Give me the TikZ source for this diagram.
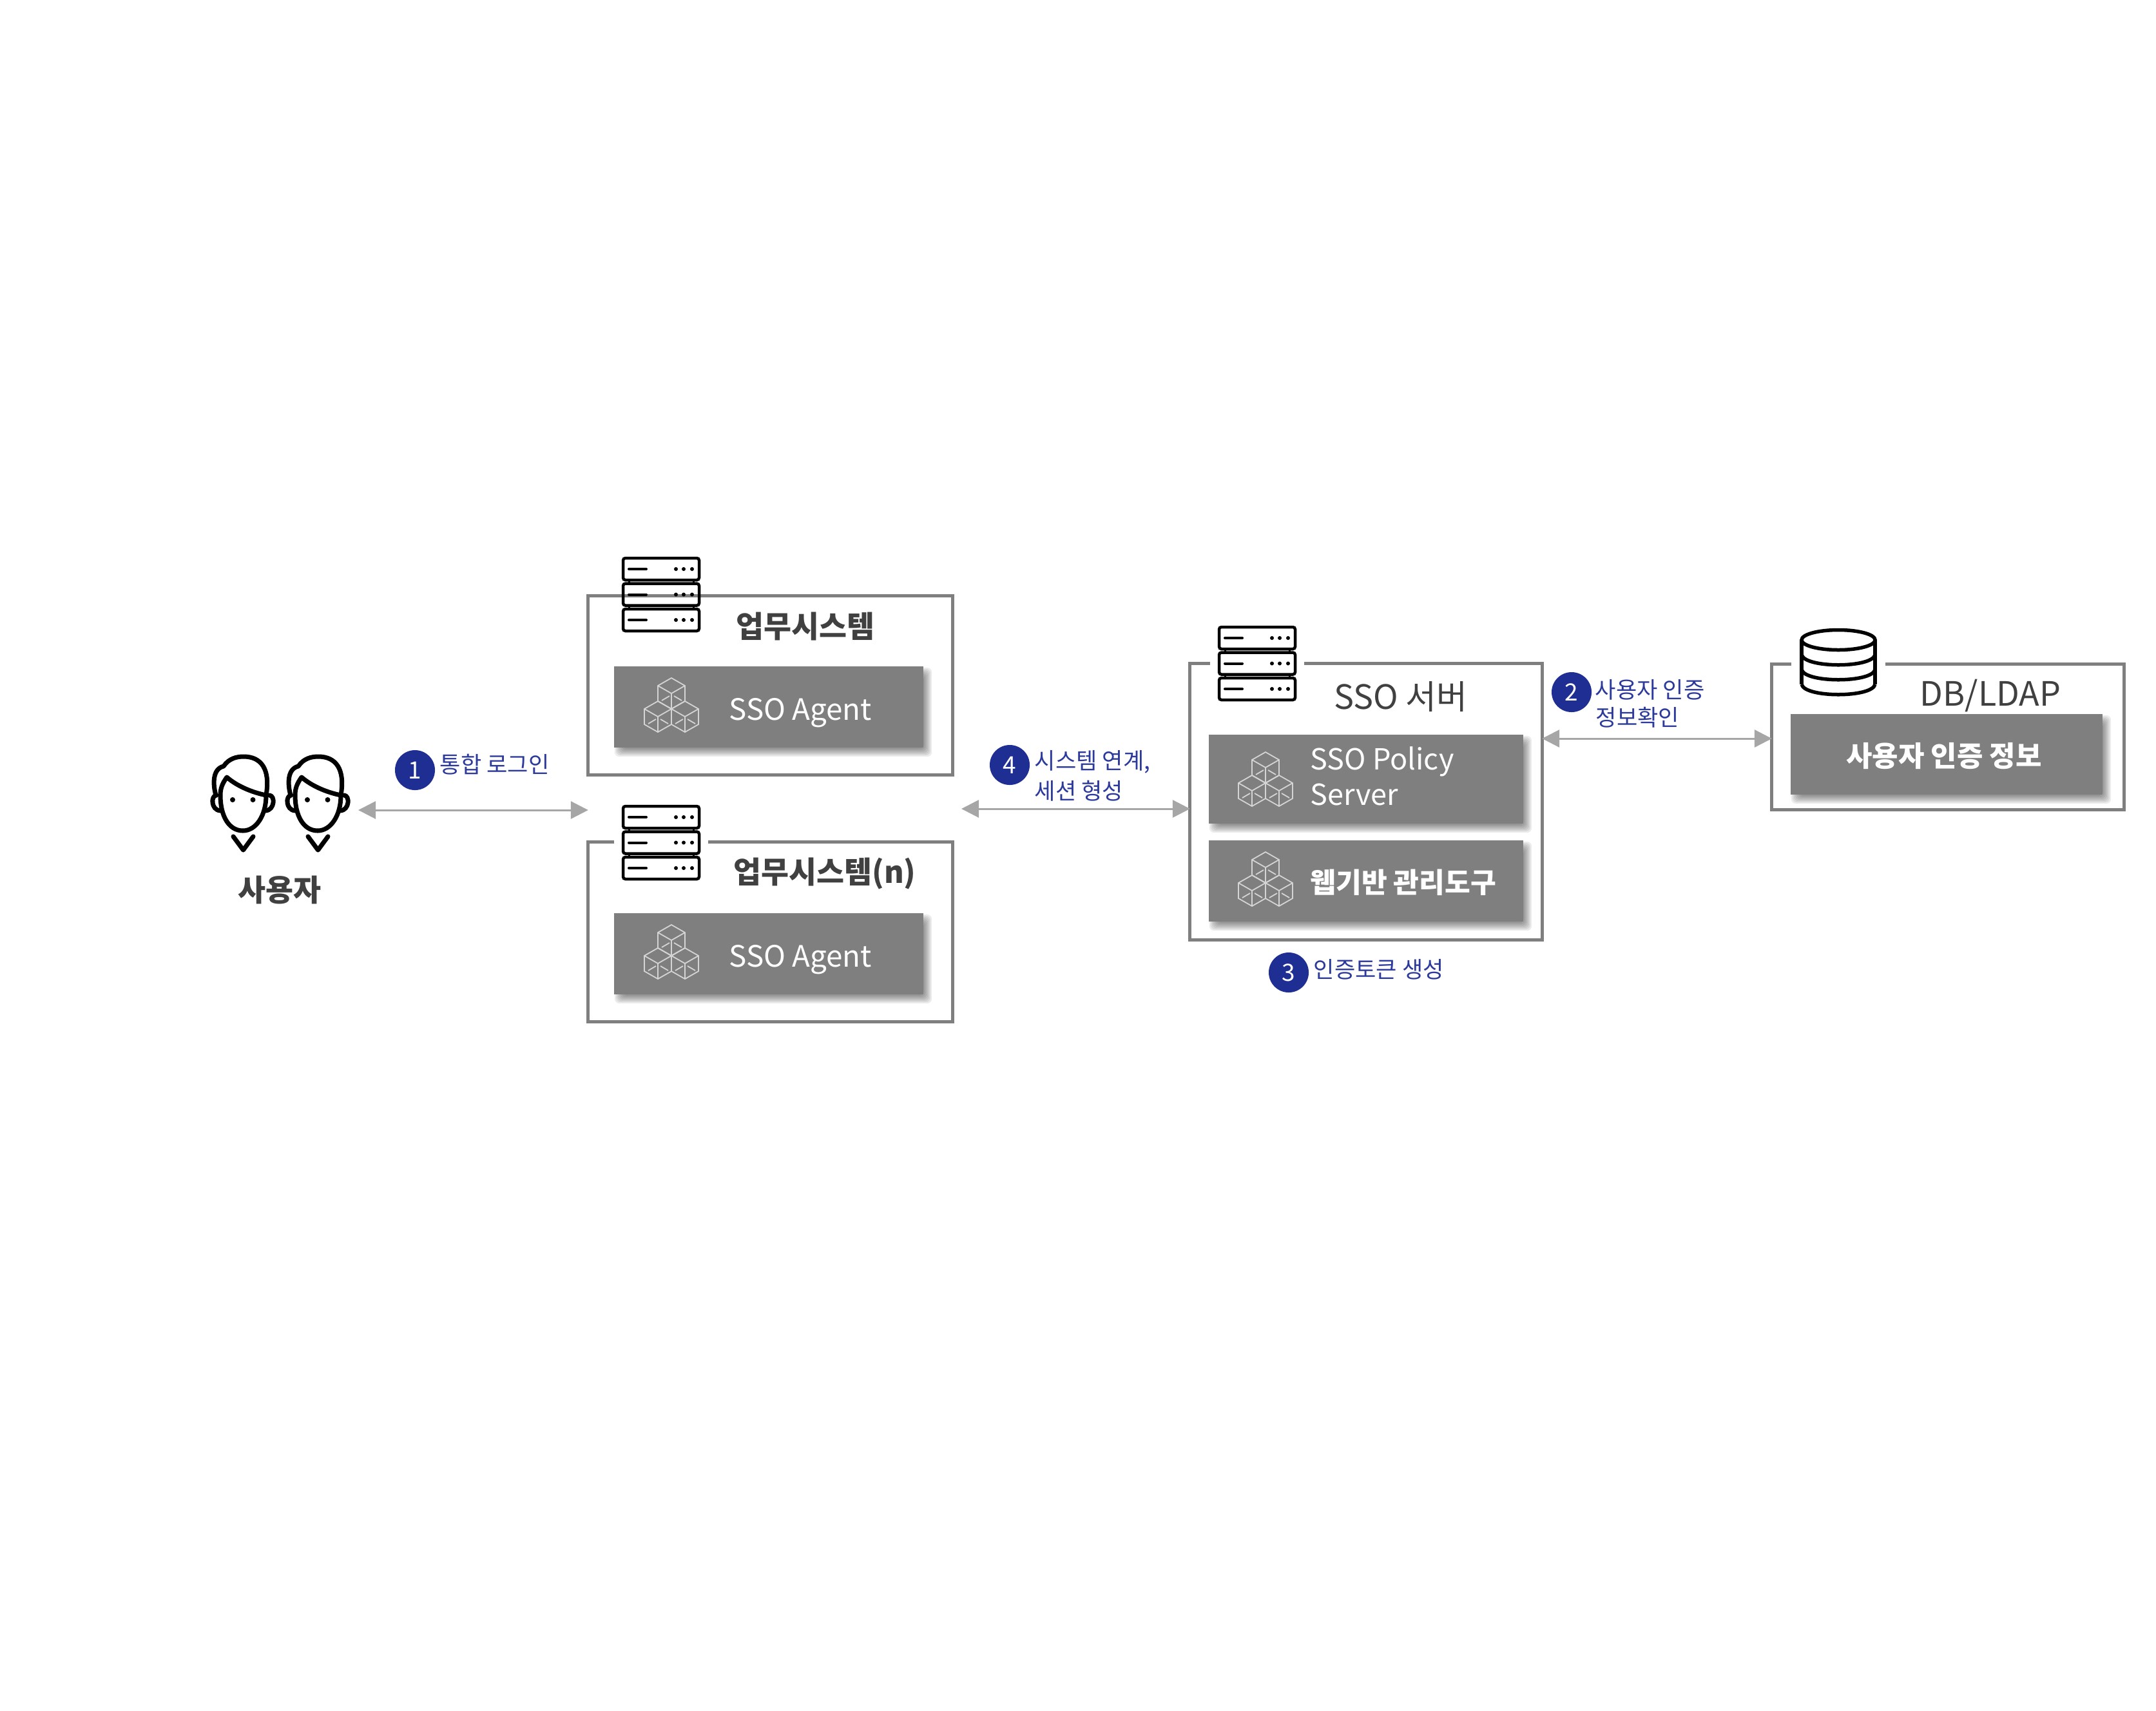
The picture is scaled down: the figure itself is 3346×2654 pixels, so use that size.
\documentclass[tikz,border=0pt]{standalone}
\usepackage{fontspec}
\setmainfont{Noto Sans CJK KR}
\usetikzlibrary{arrows.meta,backgrounds}
\definecolor{panelgray}{HTML}{7F7F7F}
\definecolor{linkgray}{HTML}{A6A6A6}
\definecolor{textgray}{HTML}{404040}
\definecolor{badgeblue}{HTML}{1F2E93}
\definecolor{noteblue}{HTML}{2C3A9C}
\definecolor{cubegray}{HTML}{D4D4D4}
\tikzset{
  serverstack/.pic={
    \foreach \u in {0,39.5,79} {
      \draw[line width=.045cm, rounded corners=1pt] (1,\u) rectangle (119,\u+34);
      \draw[line width=.04cm, line cap=round] (10,\u+17) -- (37,\u+17);
      \foreach \d in {83,95,108} \fill (\d,\u+17) circle (.03cm);
    }
    \foreach \u in {34,73.5} \draw[line width=.03cm] (10,\u) -- (10,\u+6) (110,\u) -- (110,\u+6);
  },
  cubestack/.pic={
    \foreach \cx/\cy in {21/0,0/36,42/36} {
      \begin{scope}[shift={(\cx,\cy)}, draw=cubegray, line width=.018cm]
        \draw (21,0) -- (42,12) -- (42,36) -- (21,48) -- (0,36) -- (0,12) -- cycle;
        \draw (0,12) -- (21,24) -- (42,12) (21,24) -- (21,48);
        \draw (6,35) -- (18,28) (25,28) -- (37,35);
      \end{scope}
    }
  },
  userface/.pic={
    \begin{scope}[line width=.07cm, line cap=round, line join=round]
      % hair, face, ears
      \draw (8,63) .. controls (3,45) and (3,22) .. (20,18) .. controls (28,6) and (40,3) .. (51,3)
        .. controls (78,3) and (93,22) .. (86,63);
      \draw (86,63) .. controls (86,95) and (70,118) .. (50,118) .. controls (28,118) and (15,95) .. (15,63)
        .. controls (15,52) and (18,45) .. (25,35) .. controls (40,48) and (62,58) .. (86,63);
      \draw (9,63) .. controls (0,63) and (0,86) .. (15,87);
      \draw (91,63) .. controls (100,63) and (100,86) .. (85,87);
      \draw (35,127) -- (50.5,148) -- (66,127);
    \end{scope}
    \fill (34,70) circle (.04cm) (65.5,70) circle (.04cm);
  },
  dbstack/.pic={
    \begin{scope}[line width=.055cm]
      \draw (57,16) ellipse (.57cm and .155cm);
      \draw (0,16) -- (0,85) (114,16) -- (114,85);
      \foreach \u in {39,62,85} \draw (0,\u) .. controls (5,\u+21) and (109,\u+21) .. (114,\u);
    \end{scope}
  }
}
\newcommand{\panelshadow}[1]{
  \begin{pgfonlayer}{background}
    \foreach \g in {-6,-4,...,6}
      \fill[black, opacity=.075, rounded corners=2pt]
        ([shift={(7-\g,8-\g)}]#1.north west) rectangle ([shift={(7+\g,8+\g)}]#1.south east);
  \end{pgfonlayer}
}
\begin{document}
\begin{tikzpicture}[x=.01cm, y=-.01cm,
    outerbox/.style={draw=panelgray, line width=.05cm, fill=none, inner sep=0pt, outer sep=0pt},
    gapmask/.style={fill=white, inner sep=0pt, minimum height=.12cm},
    panel/.style={fill=panelgray, inner sep=0pt, outer sep=0pt},
    paneltext/.style={text=white, font=\fontsize{13}{15.6}\selectfont, align=left, anchor=west, inner sep=0pt},
    boxtitle/.style={text=textgray, font=\fontsize{14.8}{16}\selectfont, inner sep=0pt},
    boldtitle/.style={text=textgray, font=\bfseries\fontsize{13.3}{15}\selectfont, inner sep=0pt},
    badge/.style={circle, fill=badgeblue, text=white, minimum size=.62cm, inner sep=0pt, font=\fontsize{10.5}{12}\selectfont},
    note/.style={text=noteblue, font=\fontsize{10}{11}\selectfont, anchor=west, inner sep=0pt},
    link/.style={draw=linkgray, line width=.03cm, {Triangle[length=.27cm,width=.27cm]}-{Triangle[length=.27cm,width=.27cm]}}]
  \useasboundingbox (0,0) rectangle (3346,2654);
  % users
  \pic at (327,1171) {userface};
  \pic at (443,1171) {userface};
  \node[boldtitle] (users) at (434,1381) {사용자};
  % business systems
  \node[outerbox, minimum width=5.65cm, minimum height=2.77cm] (sys1) at (1195.5,1063.5) {};
  \node[outerbox, minimum width=5.65cm, minimum height=2.78cm] (sys2) at (1195.5,1446) {};
  \node[gapmask, minimum width=1.46cm] (gap2) at (1026,1307) {};
  \pic at (966,866) {serverstack};
  \pic at (966,1251) {serverstack};
  \node[boldtitle] (sys1title) at (1250,972) {업무시스템};
  \node[boldtitle] (sys2title) at (1280,1356) {업무시스템(n)};
  \node[panel, minimum width=4.8cm, minimum height=1.26cm] (agent1) at (1193,1097) {};
  \node[panel, minimum width=4.8cm, minimum height=1.26cm] (agent2) at (1193,1480) {};
  \panelshadow{agent1}
  \panelshadow{agent2}
  \pic at (1000,1052) {cubestack};
  \pic at (1000,1435) {cubestack};
  \node[paneltext] (agent1txt) at ([xshift=1.78cm,yshift=-.09cm]agent1.west) {SSO Agent};
  \node[paneltext] (agent2txt) at ([xshift=1.78cm,yshift=-.09cm]agent2.west) {SSO Agent};
  % SSO server
  \node[outerbox, minimum width=5.46cm, minimum height=4.28cm] (sso) at (2120,1244) {};
  \node[gapmask, minimum width=1.46cm] (gap3) at (1951,1030) {};
  \pic at (1891,973) {serverstack};
  \node[boxtitle] (ssotitle) at (2174,1081) {SSO 서버};
  \node[panel, minimum width=4.88cm, minimum height=1.38cm] (policy) at (2120,1209) {};
  \node[panel, minimum width=4.88cm, minimum height=1.26cm] (webadmin) at (2120,1367) {};
  \panelshadow{policy}
  \panelshadow{webadmin}
  \pic at (1922,1167) {cubestack};
  \pic at (1922,1322) {cubestack};
  \node[paneltext, font=\fontsize{12.8}{15.6}\selectfont] (policytxt) at ([xshift=1.57cm,yshift=.05cm]policy.west) {SSO Policy\\Server};
  \node[paneltext, font=\bfseries\fontsize{12.3}{15}\selectfont] (webadmintxt) at ([xshift=1.57cm,yshift=-.02cm]webadmin.west) {웹기반 관리도구};
  % DB/LDAP
  \node[outerbox, minimum width=5.46cm, minimum height=2.25cm] (db) at (3023,1143.5) {};
  \node[gapmask, minimum width=1.46cm] (gap4) at (2853,1031) {};
  \pic at (2796,977) {dbstack};
  \node[boxtitle] (dbtitle) at (3089,1079) {DB/LDAP};
  \node[panel, minimum width=4.84cm, minimum height=1.25cm] (userinfo) at (3021,1170.5) {};
  \panelshadow{userinfo}
  \node[text=white, font=\bfseries\fontsize{12.5}{15}\selectfont, inner sep=0pt] (userinfotxt) at (3017,1173) {사용자 인증 정보};
  % links
  \coordinate (link1l) at (556,1257);
  \coordinate (link1r) at (sys1.west |- link1l);
  \coordinate (link4l) at (1492,1255);
  \coordinate (link2l) at (sso.east |- 0,1146);
  \draw[link] (link1l) -- (link1r);
  \draw[link] (link4l) -- (sso.west |- link4l);
  \draw[link] (link2l) -- (db.west |- link2l);
  % numbered notes
  \node[badge] (badge1) at (644,1195) {1};
  \node[note] (note1) at (682,1186) {통합 로그인};
  \node[badge] (badge2) at (2439,1074) {2};
  \node[note] (note2a) at (2475,1070) {사용자 인증};
  \node[note] (note2b) at (2476,1113) {정보확인};
  \node[badge] (badge3) at (2000,1509) {3};
  \node[note] (note3) at (2038,1504) {인증토큰 생성};
  \node[badge] (badge4) at (1567,1187) {4};
  \node[note] (note4a) at (1605,1182) {시스템 연계,};
  \node[note] (note4b) at (1605,1227) {세션 형성};
\end{tikzpicture}
\end{document}
